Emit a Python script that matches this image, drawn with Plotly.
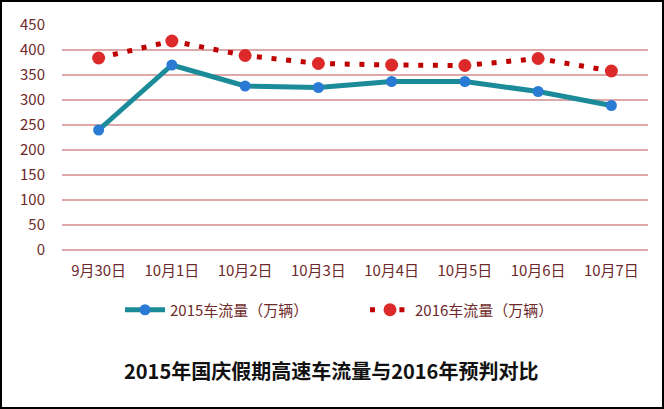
import plotly.graph_objects as go

categories = ["9月30日", "10月1日", "10月2日", "10月3日", "10月4日", "10月5日", "10月6日", "10月7日"]
flow_2015 = [240, 370, 328, 325, 337, 337, 317, 289]
flow_2016 = [384, 418, 389, 373, 370, 369, 383, 358]
y_ticks = [0, 50, 100, 150, 200, 250, 300, 350, 400, 450]

W, H = 664, 409
L, R, T, B = 62, 16, 25, 159
pw, ph = W - L - R, H - T - B

fig = go.Figure()
fig.add_trace(go.Scatter(
    x=categories, y=flow_2015, name="2015车流量（万辆）", mode="lines+markers",
    line=dict(color="#1b8b99", width=5),
    marker=dict(color="#2a7bd3", size=11),
))
fig.add_trace(go.Scatter(
    x=categories, y=flow_2016, name="2016车流量（万辆）", mode="lines+markers",
    line=dict(color="#c00000", width=5, dash="5px,9.7px"),
    marker=dict(color="#dc2a2a", size=13),
))

def px_x(p):
    return (p - L) / pw

def px_y(p):
    return (H - B - p) / ph

fig.add_shape(type="rect", xref="paper", yref="paper",
              x0=px_x(1), x1=px_x(663), y0=px_y(408), y1=px_y(1),
              line=dict(color="black", width=2), layer="above")

fig.add_annotation(text="<b>2015年国庆假期高速车流量与2016年预判对比</b>",
                   xref="paper", yref="paper", x=px_x(331), y=px_y(370),
                   xanchor="center", yanchor="middle",
                   showarrow=False, font=dict(size=20, color="#111111",
                                              family="Noto Sans CJK SC"))

fig.update_layout(
    width=W, height=H,
    margin=dict(l=L, r=R, t=T, b=B),
    paper_bgcolor="white", plot_bgcolor="white",
    font=dict(family="Noto Sans CJK SC", color="#6e2a2a", size=15),
    showlegend=True,
    legend=dict(orientation="h", x=px_x(120), xanchor="left",
                y=px_y(310), yanchor="middle",
                font=dict(size=15, color="#6e2a2a"), itemwidth=40,
                entrywidth=190, entrywidthmode="pixels"),
    xaxis=dict(type="category", range=[-0.5, 7.5], showgrid=False,
               showline=False, ticks="", ticklabelstandoff=10,
               tickfont=dict(size=15, color="#6e2a2a")),
    yaxis=dict(range=[0, 450], tickvals=y_ticks, showgrid=True,
               gridcolor="#dca8a8", gridwidth=2, zeroline=True,
               zerolinecolor="#dca8a8", zerolinewidth=2, showline=False,
               ticks="", ticklabelstandoff=16,
               tickfont=dict(size=15, color="#6e2a2a")),
)

fig.write_html("out.html", config={"displayModeBar": False},
               post_script="document.body.style.margin='0';")
